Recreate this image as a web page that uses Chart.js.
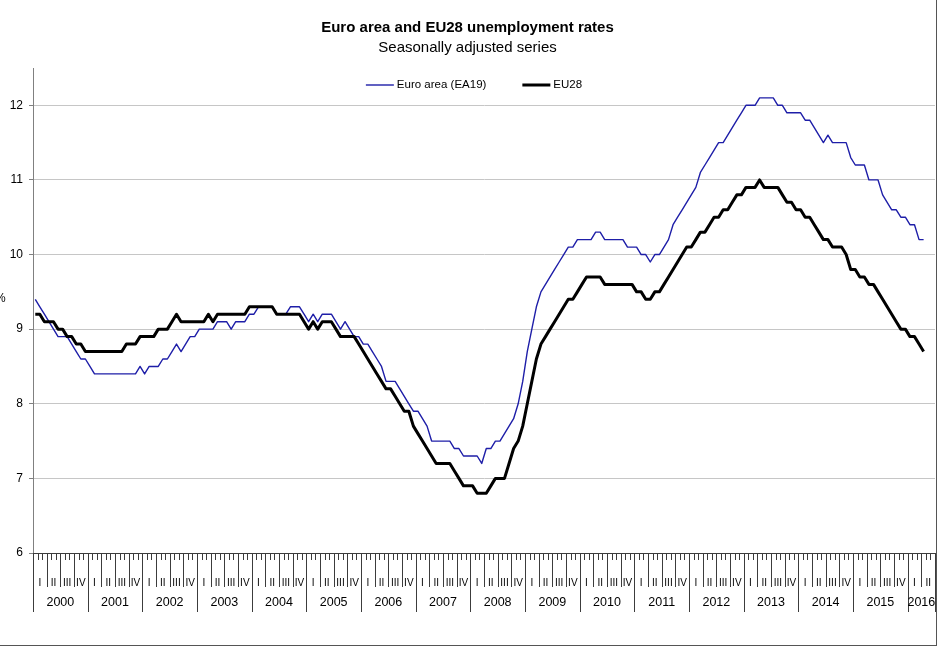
<!DOCTYPE html>
<html>
<head>
<meta charset="utf-8">
<title>Euro area and EU28 unemployment rates</title>
<script src="https://cdn.jsdelivr.net/npm/chart.js@4.4.1/dist/chart.umd.min.js"></script>
<style>
  html, body { margin: 0; padding: 0; background: #fff; overflow: hidden; }
  #wrap { position: relative; width: 945px; height: 647px; }
  #chart { position: absolute; left: 0; top: 0; }
  #frame {
    position: absolute; left: -10px; top: -10px; width: 946px; height: 655px;
    border-right: 1px solid #555; border-bottom: 1px solid #555;
    pointer-events: none;
  }
</style>
</head>
<body>
<div id="wrap">
  <canvas id="chart" width="945" height="647"></canvas>
  <div id="frame"></div>
</div>
<script>
// x axis: months Jan 2000 .. Jun 2016, grouped in quarters and years
const years = ['2000', '2001', '2002', '2003', '2004', '2005', '2006', '2007',
               '2008', '2009', '2010', '2011', '2012', '2013', '2014', '2015', '2016']
const quarterNames = ['I', 'II', 'III', 'IV']
const monthsIn2016 = 6

const monthLabels = []
years.forEach((yr, k) => {
    const count = k === years.length - 1 ? monthsIn2016 : 12
    for (let m = 1; m <= count; m++) monthLabels.push(yr + '-' + String(m).padStart(2, '0'))
})

// unemployment rate, %, seasonally adjusted (one line per year)
const euroArea = [
    9.4, 9.3, 9.2, 9.1, 9.0, 8.9, 8.9, 8.9, 8.8, 8.7, 8.6, 8.6,
    8.5, 8.4, 8.4, 8.4, 8.4, 8.4, 8.4, 8.4, 8.4, 8.4, 8.4, 8.5,
    8.4, 8.5, 8.5, 8.5, 8.6, 8.6, 8.7, 8.8, 8.7, 8.8, 8.9, 8.9,
    9.0, 9.0, 9.0, 9.0, 9.1, 9.1, 9.1, 9.0, 9.1, 9.1, 9.1, 9.2,
    9.2, 9.3, 9.3, 9.3, 9.3, 9.2, 9.2, 9.2, 9.3, 9.3, 9.3, 9.2,
    9.1, 9.2, 9.1, 9.2, 9.2, 9.2, 9.1, 9.0, 9.1, 9.0, 8.9, 8.9,
    8.8, 8.8, 8.7, 8.6, 8.5, 8.3, 8.3, 8.3, 8.2, 8.1, 8.0, 7.9,
    7.9, 7.8, 7.7, 7.5, 7.5, 7.5, 7.5, 7.5, 7.4, 7.4, 7.3, 7.3,
    7.3, 7.3, 7.2, 7.4, 7.4, 7.5, 7.5, 7.6, 7.7, 7.8, 8.0, 8.3,
    8.7, 9.0, 9.3, 9.5, 9.6, 9.7, 9.8, 9.9, 10.0, 10.1, 10.1, 10.2,
    10.2, 10.2, 10.2, 10.3, 10.3, 10.2, 10.2, 10.2, 10.2, 10.2, 10.1, 10.1,
    10.1, 10.0, 10.0, 9.9, 10.0, 10.0, 10.1, 10.2, 10.4, 10.5, 10.6, 10.7,
    10.8, 10.9, 11.1, 11.2, 11.3, 11.4, 11.5, 11.5, 11.6, 11.7, 11.8, 11.9,
    12.0, 12.0, 12.0, 12.1, 12.1, 12.1, 12.1, 12.0, 12.0, 11.9, 11.9, 11.9,
    11.9, 11.8, 11.8, 11.7, 11.6, 11.5, 11.6, 11.5, 11.5, 11.5, 11.5, 11.3,
    11.2, 11.2, 11.2, 11.0, 11.0, 11.0, 10.8, 10.7, 10.6, 10.6, 10.5, 10.5,
    10.4, 10.4, 10.2, 10.2, null, null
]

const eu28 = [
    9.2, 9.2, 9.1, 9.1, 9.1, 9.0, 9.0, 8.9, 8.9, 8.8, 8.8, 8.7,
    8.7, 8.7, 8.7, 8.7, 8.7, 8.7, 8.7, 8.7, 8.8, 8.8, 8.8, 8.9,
    8.9, 8.9, 8.9, 9.0, 9.0, 9.0, 9.1, 9.2, 9.1, 9.1, 9.1, 9.1,
    9.1, 9.1, 9.2, 9.1, 9.2, 9.2, 9.2, 9.2, 9.2, 9.2, 9.2, 9.3,
    9.3, 9.3, 9.3, 9.3, 9.3, 9.2, 9.2, 9.2, 9.2, 9.2, 9.2, 9.1,
    9.0, 9.1, 9.0, 9.1, 9.1, 9.1, 9.0, 8.9, 8.9, 8.9, 8.9, 8.8,
    8.7, 8.6, 8.5, 8.4, 8.3, 8.2, 8.2, 8.1, 8.0, 7.9, 7.9, 7.7,
    7.6, 7.5, 7.4, 7.3, 7.2, 7.2, 7.2, 7.2, 7.1, 7.0, 6.9, 6.9,
    6.9, 6.8, 6.8, 6.8, 6.9, 7.0, 7.0, 7.0, 7.2, 7.4, 7.5, 7.7,
    8.0, 8.3, 8.6, 8.8, 8.9, 9.0, 9.1, 9.2, 9.3, 9.4, 9.4, 9.5,
    9.6, 9.7, 9.7, 9.7, 9.7, 9.6, 9.6, 9.6, 9.6, 9.6, 9.6, 9.6,
    9.5, 9.5, 9.4, 9.4, 9.5, 9.5, 9.6, 9.7, 9.8, 9.9, 10.0, 10.1,
    10.1, 10.2, 10.3, 10.3, 10.4, 10.5, 10.5, 10.6, 10.6, 10.7, 10.8, 10.8,
    10.9, 10.9, 10.9, 11.0, 10.9, 10.9, 10.9, 10.9, 10.8, 10.7, 10.7, 10.6,
    10.6, 10.5, 10.5, 10.4, 10.3, 10.2, 10.2, 10.1, 10.1, 10.1, 10.0, 9.8,
    9.8, 9.7, 9.7, 9.6, 9.6, 9.5, 9.4, 9.3, 9.2, 9.1, 9.0, 9.0,
    8.9, 8.9, 8.8, 8.7, null, null
]

const yTicks = [6, 7, 8, 9, 10, 11, 12]

const FONT = '"Liberation Sans", Arial, Helvetica, sans-serif'
Chart.defaults.font.family = FONT
Chart.defaults.color = '#000'

// month / quarter / year axis drawn under the plot, positions taken from the x scale
const monthAxis = {
    id: 'monthAxis',
    afterDraw(chart) {
        const xs = chart.scales.x
        const area = chart.chartArea
        const ctx = chart.ctx
        const n = monthLabels.length
        ctx.save()
        ctx.strokeStyle = '#3c3c3c'
        ctx.lineWidth = 1
        ctx.beginPath()
        ctx.moveTo(area.left, area.bottom + 0.5)
        ctx.lineTo(area.right, area.bottom + 0.5)
        for (let i = 0; i <= n; i++) {
            const px = Math.round(xs.getPixelForValue(i - 0.5)) + 0.5
            let len = 7
            if (i % 12 === 0 || i === n) len = 59
            else if (i % 3 === 0) len = 34
            ctx.moveTo(px, area.bottom)
            ctx.lineTo(px, area.bottom + len)
        }
        ctx.stroke()

        ctx.fillStyle = '#000'
        ctx.textAlign = 'center'
        ctx.textBaseline = 'middle'
        ctx.font = '10px ' + FONT
        for (let q = 0; q * 3 < n; q++) {
            ctx.fillText(quarterNames[q % 4], xs.getPixelForValue(q * 3 + 1), area.bottom + 30)
        }
        ctx.font = '12.5px ' + FONT
        years.forEach((yr, k) => {
            const first = k * 12
            const last = Math.min(k * 12 + 11, n - 1)
            const cx = (xs.getPixelForValue(first - 0.5) + xs.getPixelForValue(last + 0.5)) / 2
            ctx.fillText(yr, cx, area.bottom + 50)
        })

        // unit label left of the value axis
        ctx.font = '12px ' + FONT
        ctx.textAlign = 'left'
        ctx.fillText('%', chart.scales.y.left - 5, (area.top + area.bottom) / 2 - 12)
        ctx.restore()
    }
}

// legend sitting inside the top of the plot area, one row
const insideLegend = {
    id: 'insideLegend',
    afterDraw(chart) {
        const ctx = chart.ctx
        const area = chart.chartArea
        const sample = 28, textGap = 3, itemGap = 36
        ctx.save()
        ctx.font = '11.5px ' + FONT
        const items = chart.data.datasets.map(ds => ({
            text: ds.label,
            color: ds.borderColor,
            width: ds.borderWidth,
            w: sample + textGap + ctx.measureText(ds.label).width
        }))
        const total = items.reduce((s, it) => s + it.w, 0) + itemGap * (items.length - 1)
        let x = (area.left + area.right) / 2 - 10 - total / 2
        const y = area.top + 17
        ctx.textAlign = 'left'
        ctx.textBaseline = 'middle'
        items.forEach(it => {
            ctx.strokeStyle = it.color
            ctx.lineWidth = it.width
            ctx.beginPath()
            ctx.moveTo(x, y)
            ctx.lineTo(x + sample, y)
            ctx.stroke()
            ctx.fillStyle = '#000'
            ctx.fillText(it.text, x + sample + textGap, y)
            x += it.w + itemGap
        })
        ctx.restore()
    }
}

new Chart(document.getElementById('chart'), {
    type: 'line',
    data: {
        labels: monthLabels,
        datasets: [{
            label: 'Euro area (EA19)',
            data: euroArea,
            borderColor: '#1e1ea8',
            backgroundColor: '#1e1ea8',
            borderWidth: 1.4,
            order: 1
        }, {
            label: 'EU28',
            data: eu28,
            borderColor: '#000',
            backgroundColor: '#000',
            borderWidth: 3,
            order: 0
        }]
    },
    options: {
        responsive: false,
        animation: false,
        devicePixelRatio: 1,
        elements: {
            point: { radius: 0, hoverRadius: 0 },
            line: { tension: 0, borderJoinStyle: 'round' }
        },
        layout: { padding: { left: 0, right: 10, top: 0, bottom: 0 } },
        plugins: {
            title: {
                display: true,
                text: 'Euro area and EU28 unemployment rates',
                font: { size: 15, weight: 'bold' },
                color: '#000',
                padding: { top: 19, bottom: 2 }
            },
            subtitle: {
                display: true,
                text: 'Seasonally adjusted series',
                font: { size: 15, weight: 'normal' },
                color: '#000',
                padding: { top: 0, bottom: 11 }
            },
            legend: { display: false },
            tooltip: { enabled: false }
        },
        scales: {
            x: {
                type: 'category',
                offset: true,
                grid: { display: false },
                border: { display: false },
                ticks: { display: false },
                afterFit(scale) { scale.height = 94 }
            },
            y: {
                min: 6,
                max: 12.5,
                afterBuildTicks(scale) { scale.ticks = yTicks.map(v => ({ value: v })) },
                ticks: { padding: 6, color: '#000', font: { size: 12 } },
                grid: { color: '#c6c6c6', tickLength: 4, tickColor: '#808080' },
                border: { color: '#808080' },
                afterFit(scale) { scale.width = 33 }
            }
        }
    },
    plugins: [monthAxis, insideLegend]
})
</script>
</body>
</html>
